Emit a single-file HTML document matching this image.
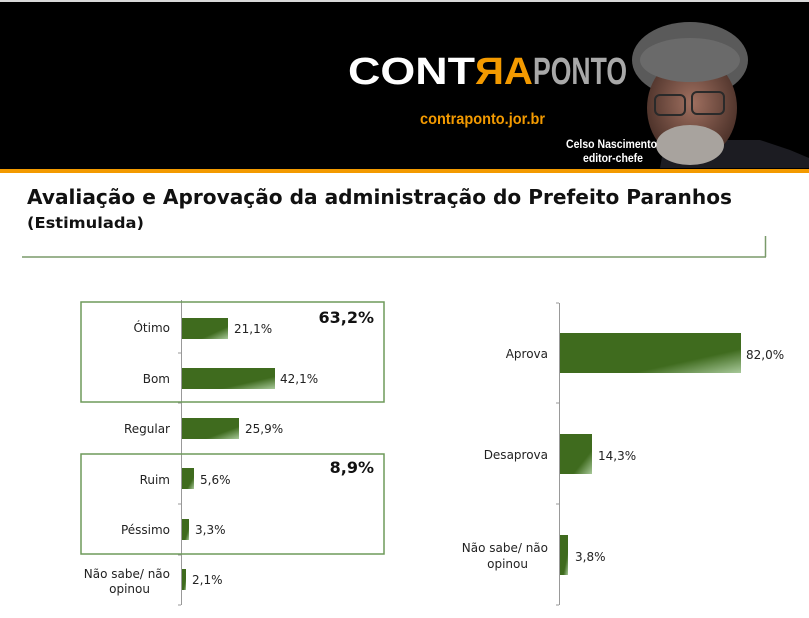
<!DOCTYPE html>
<html><head><meta charset="utf-8"><style>
html,body{margin:0;padding:0;background:#fff;}
svg{display:block;}
text{font-family:"DejaVu Sans","Liberation Sans",sans-serif;}
.lib{font-family:"Liberation Sans",sans-serif;}
</style></head><body>
<svg width="809" height="618" viewBox="0 0 809 618" xmlns="http://www.w3.org/2000/svg">
<defs>
<linearGradient id="g" x1="0" y1="0" x2="1" y2="1">
<stop offset="0" stop-color="#3f6b1e"/><stop offset="0.7" stop-color="#3f6b1e"/><stop offset="1" stop-color="#a8c99a"/>
</linearGradient>
<radialGradient id="face" cx="0.5" cy="0.45" r="0.55">
<stop offset="0" stop-color="#a07060"/><stop offset="1" stop-color="#4a3028"/>
</radialGradient>
</defs>
<rect x="0" y="0" width="809" height="2" fill="#d8d8d8"/>
<rect x="0" y="2" width="809" height="167" fill="#000"/>
<rect x="0" y="169" width="809" height="4" fill="#f39a00"/>
<!-- photo -->
<path d="M660 168 L665 140 L760 140 L790 150 L809 158 L809 168 Z" fill="#1c1c22"/>
<ellipse cx="690" cy="60" rx="58" ry="38" fill="#5a5a5a"/>
<ellipse cx="692" cy="108" rx="45" ry="52" fill="url(#face)"/>
<ellipse cx="690" cy="60" rx="50" ry="22" fill="#6a6a6a"/>
<g fill="none" stroke="#2a2a2a" stroke-width="2"><rect x="655" y="95" width="30" height="20" rx="5"/><rect x="692" y="92" width="32" height="22" rx="5"/></g>
<ellipse cx="690" cy="145" rx="34" ry="20" fill="#a8a39e"/>
<text class="lib" x="348" y="84" font-weight="bold" font-size="38" fill="#fff" textLength="127" lengthAdjust="spacingAndGlyphs">CONT</text>
<text class="lib" x="475" y="84" font-weight="bold" font-size="38" fill="#f39a00" textLength="58" lengthAdjust="spacingAndGlyphs">ЯA</text>
<text class="lib" x="533" y="84" font-weight="bold" font-size="38" fill="#a8a8a8" textLength="94" lengthAdjust="spacingAndGlyphs">PONTO</text>
<text class="lib" x="420" y="124" font-weight="bold" font-size="16" fill="#f39a00" textLength="125" lengthAdjust="spacingAndGlyphs">contraponto.jor.br</text>
<text class="lib" x="566" y="148" font-weight="bold" font-size="12" fill="#fff" textLength="91" lengthAdjust="spacingAndGlyphs">Celso Nascimento</text>
<text class="lib" x="583" y="162" font-weight="bold" font-size="12" fill="#fff" textLength="60" lengthAdjust="spacingAndGlyphs">editor-chefe</text>
<!-- title -->
<text x="27" y="204" font-weight="bold" font-size="20" fill="#111" textLength="705" lengthAdjust="spacingAndGlyphs">Avaliação e Aprovação da administração do Prefeito Paranhos</text>
<text x="27" y="228" font-weight="bold" font-size="15" fill="#111" textLength="117" lengthAdjust="spacingAndGlyphs">(Estimulada)</text>
<line x1="22" y1="257" x2="766" y2="257" stroke="#7a9a6a" stroke-width="1.5"/>
<line x1="765.5" y1="236" x2="765.5" y2="257" stroke="#7a9a6a" stroke-width="1.5"/>
<!-- left chart -->
<line x1="181.5" y1="300" x2="181.5" y2="605" stroke="#999"/>
<g stroke="#999"><line x1="178" y1="353" x2="181" y2="353"/><line x1="178" y1="403" x2="181" y2="403"/><line x1="178" y1="454" x2="181" y2="454"/><line x1="178" y1="504" x2="181" y2="504"/><line x1="178" y1="555" x2="181" y2="555"/><line x1="178" y1="605" x2="181" y2="605"/></g>
<rect x="81" y="302" width="303" height="100" fill="none" stroke="#6e9a5a" stroke-width="1.5"/>
<rect x="81" y="454" width="303" height="100" fill="none" stroke="#6e9a5a" stroke-width="1.5"/>
<g fill="url(#g)">
<rect x="182" y="318" width="46" height="21"/>
<rect x="182" y="368" width="93" height="21"/>
<rect x="182" y="418" width="57" height="21"/>
<rect x="182" y="468" width="12" height="21"/>
<rect x="182" y="519" width="7" height="21"/>
<rect x="182" y="569" width="4" height="21"/>
</g>
<g font-size="12" fill="#222" text-anchor="end">
<text x="170" y="332">Ótimo</text>
<text x="170" y="383">Bom</text>
<text x="170" y="433">Regular</text>
<text x="170" y="484">Ruim</text>
<text x="170" y="534">Péssimo</text>
<text x="170" y="578">Não sabe/ não</text>
<text x="150" y="593">opinou</text>
</g>
<g font-size="12" fill="#222">
<text x="234" y="333">21,1%</text>
<text x="280" y="383">42,1%</text>
<text x="245" y="433">25,9%</text>
<text x="200" y="484">5,6%</text>
<text x="195" y="534">3,3%</text>
<text x="192" y="584">2,1%</text>
</g>
<text x="374" y="323" font-size="16" font-weight="bold" fill="#111" text-anchor="end">63,2%</text>
<text x="374" y="473" font-size="16" font-weight="bold" fill="#111" text-anchor="end">8,9%</text>
<!-- right chart -->
<line x1="559.5" y1="303" x2="559.5" y2="605" stroke="#999"/>
<g stroke="#999"><line x1="556" y1="303" x2="559" y2="303"/><line x1="556" y1="403" x2="559" y2="403"/><line x1="556" y1="504" x2="559" y2="504"/><line x1="556" y1="605" x2="559" y2="605"/></g>
<g fill="url(#g)">
<rect x="560" y="333" width="181" height="40"/>
<rect x="560" y="434" width="32" height="40"/>
<rect x="560" y="535" width="8" height="40"/>
</g>
<g font-size="12" fill="#222" text-anchor="end">
<text x="548" y="358">Aprova</text>
<text x="548" y="459">Desaprova</text>
<text x="548" y="552">Não sabe/ não</text>
<text x="528" y="568">opinou</text>
</g>
<g font-size="12" fill="#222">
<text x="746" y="359">82,0%</text>
<text x="598" y="460">14,3%</text>
<text x="575" y="561">3,8%</text>
</g>
</svg>
</body></html>
